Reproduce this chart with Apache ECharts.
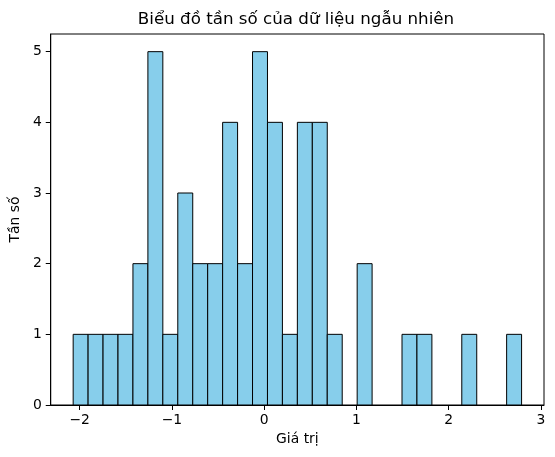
<!DOCTYPE html>
<html>
<head>
<meta charset="utf-8">
<script src="https://cdn.jsdelivr.net/npm/echarts@6/dist/echarts.min.js"></script>
<style>
  html, body { margin: 0; padding: 0; background: #fff; }
  #chart { width: 555px; height: 457px; }
</style>
</head>
<body>
<div id="chart"></div>
<script>
// histogram: 30 bins, first edge and width
var binStart = -2.07;
var binWidth = 0.162;
var counts = [1, 1, 1, 1, 2, 5, 1, 3, 2, 2, 4, 2, 5, 4, 1, 4, 4, 1, 0, 2, 0, 0, 1, 1, 0, 0, 1, 0, 0, 1];
var xTicks = [-2, -1, 0, 1, 2, 3];
var yTicks = [0, 1, 2, 3, 4, 5];

var titleText = 'Biểu đồ tần số của dữ liệu ngẫu nhiên';
var xName = 'Giá trị';
var yName = 'Tần số';

var font = 'DejaVu Sans';

// [left edge, right edge, count]
var bins = [];
counts.forEach(function(c, i) {
	if (c > 0) {
		bins.push([binStart + i * binWidth, binStart + (i + 1) * binWidth, c]);
	}
});

var dataMin = binStart;
var dataMax = binStart + counts.length * binWidth;
var pad = (dataMax - dataMin) * 0.05;
var yMax = Math.max.apply(null, counts) * 1.05;

function minusSign(v) {
	return String(v).replace('-', '\u2212');
}

var chart = echarts.init(document.getElementById('chart'));

var option = {
	backgroundColor: '#fff',
	animation: false,
	title: {
		text: titleText,
		left: 296,
		top: 11,
		padding: 0,
		textAlign: 'center',
		textStyle: { fontFamily: font, fontSize: 16.7, fontWeight: 'normal', color: '#000' }
	},
	grid: {
		left: 48, right: 11, top: 34, bottom: 52,
		show: true, borderColor: '#000', borderWidth: 1, backgroundColor: 'transparent'
	},
	xAxis: {
		type: 'value',
		min: dataMin - pad,
		max: dataMax + pad,
		name: xName,
		nameLocation: 'middle',
		nameGap: 26,
		nameTextStyle: { fontFamily: font, fontSize: 13.9, color: '#000' },
		axisLine: { show: true, onZero: false, lineStyle: { color: '#000', width: 1 } },
		axisTick: { show: true, inside: false, length: 5, customValues: xTicks, lineStyle: { color: '#000', width: 1 } },
		axisLabel: {
			customValues: xTicks, margin: 8, color: '#000', fontFamily: font, fontSize: 13.9,
			formatter: function(v) { return minusSign(v); }
		},
		splitLine: { show: false }
	},
	yAxis: {
		type: 'value',
		min: 0,
		max: yMax,
		name: yName,
		nameLocation: 'middle',
		nameGap: 25,
		nameTextStyle: { fontFamily: font, fontSize: 13.9, color: '#000' },
		axisLine: { show: true, onZero: false, lineStyle: { color: '#000', width: 1 } },
		axisTick: { show: true, inside: false, length: 5, customValues: yTicks, lineStyle: { color: '#000', width: 1 } },
		axisLabel: { customValues: yTicks, margin: 9, color: '#000', fontFamily: font, fontSize: 13.9 },
		splitLine: { show: false }
	},
	series: [{
		type: 'custom',
		data: bins,
		encode: { x: [0, 1], y: 2 },
		renderItem: function(params, api) {
			var p0 = api.coord([api.value(0), api.value(2)]);
			var p1 = api.coord([api.value(1), 0]);
			return {
				type: 'rect',
				shape: { x: p0[0], y: p0[1], width: p1[0] - p0[0], height: p1[1] - p0[1] },
				style: { fill: '#87CEEB', stroke: '#000', lineWidth: 1 }
			};
		}
	}]
};

chart.setOption(option);
</script>
</body>
</html>
